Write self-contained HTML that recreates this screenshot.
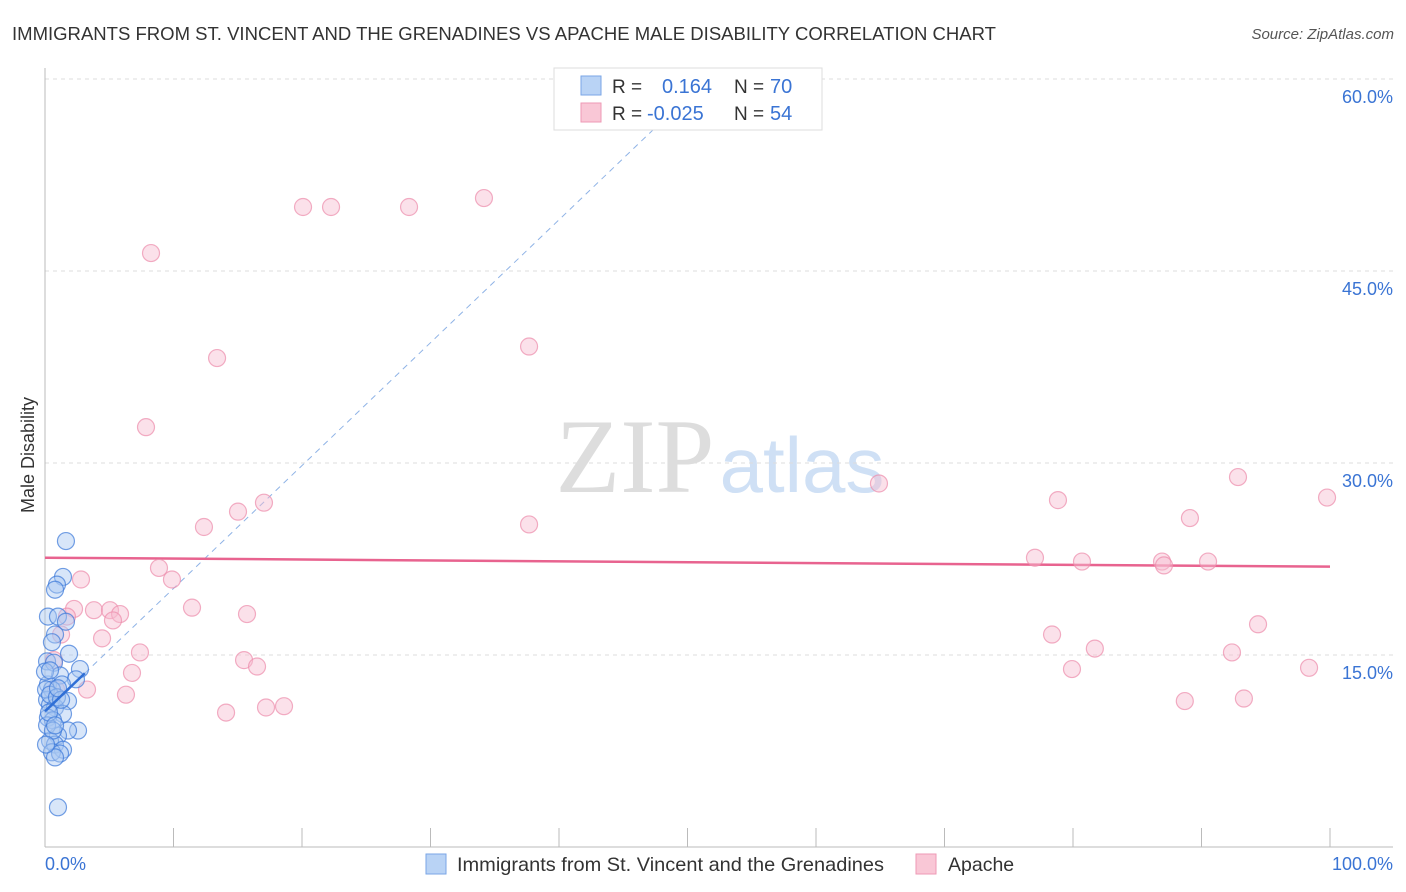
<!DOCTYPE html>
<html><head><meta charset="utf-8"><style>
body{margin:0;background:#fff;font-family:"Liberation Sans",sans-serif;}
svg{display:block}
</style></head><body>
<svg id="chart" width="1406" height="892">
<text x="12" y="40" font-size="18.5" fill="#333" textLength="984" lengthAdjust="spacingAndGlyphs">IMMIGRANTS FROM ST. VINCENT AND THE GRENADINES VS APACHE MALE DISABILITY CORRELATION CHART</text>
<text x="1394" y="39" font-size="15" fill="#555" font-style="italic" text-anchor="end">Source: ZipAtlas.com</text>
<g>
<text x="635" y="492" font-size="106" font-family="Liberation Serif,serif" fill="#ddd" text-anchor="middle">ZIP</text>
<text x="802" y="492" font-size="78" fill="#cfe0f5" text-anchor="middle">atlas</text>
</g>
<text transform="translate(34,455) rotate(-90)" font-size="18" fill="#333" text-anchor="middle">Male Disability</text>
<g id="grid"></g><g id="axes"></g><g id="lines"></g><g id="pts"></g>
<g>
<rect x="554" y="68" width="268" height="62" fill="#fff" stroke="#ddd"/>
<rect x="581" y="76" width="20" height="19" fill="#b9d3f5" stroke="#7aa6e6"/>
<rect x="581" y="103" width="20" height="19" fill="#f9c7d6" stroke="#ee9ab5"/>
<text x="612" y="93" font-size="19" fill="#333">R = </text><text x="662" y="93" font-size="20" fill="#3a74d4">0.164</text>
<text x="734" y="93" font-size="19" fill="#333">N = </text><text x="770" y="93" font-size="20" fill="#3a74d4">70</text>
<text x="612" y="120" font-size="19" fill="#333">R = </text><text x="647" y="120" font-size="20" fill="#3a74d4">-0.025</text>
<text x="734" y="120" font-size="19" fill="#333">N = </text><text x="770" y="120" font-size="20" fill="#3a74d4">54</text>
</g>
<g>
<rect x="426" y="854" width="20" height="20" fill="#b9d3f5" stroke="#7aa6e6"/>
<text x="457" y="871" font-size="19.5" fill="#333" textLength="427" lengthAdjust="spacingAndGlyphs">Immigrants from St. Vincent and the Grenadines</text>
<rect x="916" y="854" width="20" height="20" fill="#f9c7d6" stroke="#ee9ab5"/>
<text x="948" y="871" font-size="19.5" fill="#333">Apache</text>
</g>
</svg>
<script>
const yTicks=[15,30,45,60];
const yTickLabels=["15.0%","30.0%","45.0%","60.0%"];
const xTickLabels=["0.0%","100.0%"];
const blueX=[1.63,1.40,0.93,0.78,0.23,1.01,1.63,0.78,0.54,1.87,0.16,0.70,2.72,1.17,2.41,0.23,1.32,0.54,1.79,0.16,0.39,0.78,1.40,0.23,0.62,2.57,1.79,1.01,0.39,0.78,1.40,0.54,1.17,0.78,1.01,0.08,0.39,0.16,0.62,0.93,0.31,1.25,0,0.39,1.01,0.08,0.78];
const blueY=[23.9,21.1,20.5,20.1,18.0,18.0,17.6,16.6,16.0,15.1,14.5,14.4,13.9,13.4,13.1,12.7,12.7,12.3,11.4,11.5,11.1,10.9,10.4,10.1,9.9,9.1,9.1,8.7,8.3,8.0,7.6,7.4,7.3,7.0,3.1,12.3,11.9,9.5,9.1,11.7,10.5,11.5,13.7,13.8,12.4,8.0,9.5];
const pinkX=[8.25,20.08,22.26,28.33,34.16,13.39,37.67,7.86,64.9,17.04,15.02,12.37,37.67,78.83,92.84,99.77,89.1,77.04,80.7,86.93,87.08,90.51,8.87,9.88,2.80,2.26,3.81,5.06,5.84,11.44,15.72,1.71,5.29,1.25,4.44,7.39,78.37,94.4,81.7,92.37,15.49,16.5,6.77,79.92,98.37,3.27,6.3,88.7,93.3,14.09,17.2,18.6,0.7,0.86];
const pinkY=[46.4,50.0,50.0,50.0,50.7,38.2,39.1,32.8,28.4,26.9,26.2,25.0,25.2,27.1,28.9,27.3,25.7,22.6,22.3,22.3,22.0,22.3,21.8,20.9,20.9,18.6,18.5,18.5,18.2,18.7,18.2,18.0,17.7,16.6,16.3,15.2,16.6,17.4,15.5,15.2,14.6,14.1,13.6,13.9,14.0,12.3,11.9,11.4,11.6,10.5,10.9,11.0,14.6,12.3];
const blueTrend=[10.6,0.96]; // intercept, slope
const pinkTrend=[22.6,21.9]; // y at 0 and 100
const NS="http://www.w3.org/2000/svg";
const sx=v=>45+v*12.85, sy=v=>847-v*12.8;
function mk(p,t,a){const e=document.createElementNS(NS,t);for(const k in a)e.setAttribute(k,a[k]);document.getElementById(p).appendChild(e);return e;}
yTicks.forEach((t,i)=>{
 const g=mk('grid','line',{x1:45,x2:1393,y1:sy(t),y2:sy(t),stroke:'#ddd','stroke-dasharray':'4,4'});
 
 
 const l=mk('grid','text',{x:1393,y:sy(t)+24,'font-size':18,fill:'#3a74d4','text-anchor':'end'});
 l.textContent=yTickLabels[i];
 
 
});
const ag=mk('axes','line',{x1:45,x2:45,y1:68,y2:847,stroke:'#bbb'});


const xa=mk('axes','line',{x1:45,x2:1393,y1:847,y2:847,stroke:'#bbb'});


for(let i=1;i<=10;i++){const t=mk('axes','line',{x1:sx(i*10),x2:sx(i*10),y1:828,y2:847,stroke:'#bbb'});
 
 }
[[0,45,'start'],[1,1393,'end']].forEach(([i,x,a])=>{const t=mk('axes','text',{x:x,y:870,'font-size':18,fill:'#3a74d4','text-anchor':a});t.textContent=xTickLabels[i];
 
 });
function pts(X,Y,f,s,n){X.forEach((x,i)=>{const c=mk('pts','circle',{cx:sx(x),cy:sy(Y[i]),r:8.5,fill:f,'fill-opacity':0.45,stroke:s,'stroke-opacity':0.7,'stroke-width':1.2});
 
 });}
pts(pinkX,pinkY,'#f7bcd0','#ec8cab','apache-point');
pts(blueX,blueY,'#a9c8f2','#3a78d8','immigrant-point');
const bEnd=3.1, dEnd=47.5;
const bd=mk('lines','line',{x1:sx(bEnd),y1:sy(blueTrend[0]+blueTrend[1]*bEnd),x2:sx(dEnd),y2:sy(blueTrend[0]+blueTrend[1]*dEnd),stroke:'#8fb3e6','stroke-dasharray':'6,5'});


const pl=mk('lines','line',{x1:sx(0),y1:sy(pinkTrend[0]),x2:sx(100),y2:sy(pinkTrend[1]),stroke:'#e8638f','stroke-width':2.5});


const bl=mk('pts','line',{x1:sx(0),y1:sy(blueTrend[0]),x2:sx(bEnd),y2:sy(blueTrend[0]+blueTrend[1]*bEnd),stroke:'#2f6fd6','stroke-width':2.5});


</script>
</body></html>
